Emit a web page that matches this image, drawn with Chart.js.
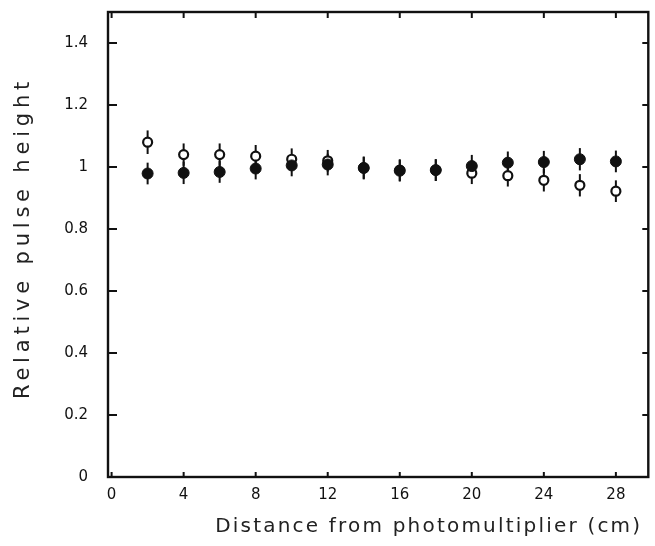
<!DOCTYPE html>
<html>
<head>
<meta charset="utf-8">
<script src="https://cdn.jsdelivr.net/npm/chart.js@4.4.1/dist/chart.umd.min.js"></script>
<style>
  html, body { margin: 0; background: #fff; }
  #wrap { width: 655px; height: 546px; }
</style>
</head>
<body>
<div id="wrap"><canvas id="chart"></canvas></div>
<script>
const distances = [2, 4, 6, 8, 10, 12, 14, 16, 18, 20, 22, 24, 26, 28];

// Filled circles
const filledHeight = [0.979, 0.981, 0.984, 0.995, 1.005, 1.008, 0.997, 0.988, 0.99, 1.003, 1.014, 1.016, 1.025, 1.018];
const filledErr = [0.035, 0.036, 0.035, 0.035, 0.035, 0.035, 0.037, 0.035, 0.035, 0.036, 0.036, 0.036, 0.036, 0.035];

// Open circles
const openHeight = [1.08, 1.04, 1.04, 1.035, 1.025, 1.02, 0.997, 0.99, 0.99, 0.98, 0.972, 0.957, 0.941, 0.922];
const openErr = [0.038, 0.036, 0.036, 0.036, 0.035, 0.035, 0.035, 0.035, 0.035, 0.035, 0.035, 0.036, 0.036, 0.035];

const xTickValues = [0, 4, 8, 12, 16, 20, 24, 28];
const yTickValues = [0, 0.2, 0.4, 0.6, 0.8, 1, 1.2, 1.4];

const xTitle = 'Distance from photomultiplier (cm)';
const yTitle = 'Relative pulse height';

const INK = '#111';

function points(ys) {
  return distances.map((d, i) => ({ x: d, y: ys[i] }));
}

// vertical error bars, drawn under the markers
const errorBars = {
  id: 'errorBars',
  beforeDatasetsDraw(chart) {
    const { ctx, scales: { x, y } } = chart;
    ctx.save();
    ctx.strokeStyle = INK;
    ctx.lineWidth = 2;
    chart.data.datasets.forEach((ds) => {
      ds.data.forEach((p, i) => {
        const px = x.getPixelForValue(p.x);
        ctx.beginPath();
        ctx.moveTo(px, y.getPixelForValue(p.y - ds.errors[i]));
        ctx.lineTo(px, y.getPixelForValue(p.y + ds.errors[i]));
        ctx.stroke();
      });
    });
    ctx.restore();
  },
};

// box round the plot with ticks pointing inwards on all four sides
const frame = {
  id: 'frame',
  beforeDatasetsDraw(chart) {
    const { ctx, chartArea: a, scales: { x, y } } = chart;
    ctx.save();
    ctx.strokeStyle = INK;
    ctx.lineWidth = 2.4;
    ctx.strokeRect(a.left, a.top, a.right - a.left, a.bottom - a.top);
    ctx.lineWidth = 2;
    ctx.beginPath();
    xTickValues.forEach((v) => {
      const px = x.getPixelForValue(v);
      ctx.moveTo(px, a.bottom); ctx.lineTo(px, a.bottom - 5);
      ctx.moveTo(px, a.top); ctx.lineTo(px, a.top + 6);
    });
    yTickValues.forEach((v) => {
      const py = y.getPixelForValue(v);
      ctx.moveTo(a.left, py); ctx.lineTo(a.left + 9, py);
      ctx.moveTo(a.right, py); ctx.lineTo(a.right - 6, py);
    });
    ctx.stroke();
    ctx.restore();
  },
};

// axis titles, spaced out like the typeset original
const titles = {
  id: 'titles',
  afterDraw(chart) {
    const { ctx, chartArea: a } = chart;
    ctx.save();
    ctx.fillStyle = '#222';
    ctx.font = '20px "DejaVu Sans"';
    ctx.textBaseline = 'middle';
    ctx.letterSpacing = '2.2px';
    ctx.textAlign = 'right';
    ctx.fillText(xTitle, a.right - 6, 527);
    ctx.translate(24, 238);
    ctx.rotate(-Math.PI / 2);
    ctx.textAlign = 'center';
    ctx.letterSpacing = '4.8px';
    ctx.font = '21px "DejaVu Sans"';
    ctx.fillText(yTitle, 0, 0);
    ctx.restore();
  },
};

new Chart(document.getElementById('chart'), {
  type: 'scatter',
  data: {
    datasets: [
      {
        label: 'filled',
        data: points(filledHeight),
        errors: filledErr,
        pointStyle: 'circle',
        pointRadius: 5.5,
        pointBackgroundColor: INK,
        pointBorderColor: INK,
        pointBorderWidth: 1,
      },
      {
        label: 'open',
        data: points(openHeight),
        errors: openErr,
        pointStyle: 'circle',
        pointRadius: 4.5,
        pointBackgroundColor: '#fff',
        pointBorderColor: INK,
        pointBorderWidth: 2.2,
      },
    ],
  },
  options: {
    responsive: true,
    maintainAspectRatio: false,
    animation: false,
    layout: { padding: { left: 4, right: 6, top: 12, bottom: 6 } },
    scales: {
      x: {
        type: 'linear',
        min: -0.2,
        max: 29.8,
        grid: { display: false, drawTicks: false },
        border: { display: false },
        afterBuildTicks: (s) => { s.ticks = xTickValues.map((v) => ({ value: v })); },
        afterFit: (s) => { s.height = 63; s.paddingLeft = 0; s.paddingRight = 0; },
        ticks: {
          padding: 9,
          color: INK,
          font: { family: 'DejaVu Sans', size: 15 },
          maxRotation: 0,
        },
      },
      y: {
        type: 'linear',
        min: 0,
        max: 1.5,
        grid: { display: false, drawTicks: false },
        border: { display: false },
        afterBuildTicks: (s) => { s.ticks = yTickValues.map((v) => ({ value: v })); },
        afterFit: (s) => { s.width = 104; s.paddingTop = 0; s.paddingBottom = 0; },
        ticks: {
          padding: 20,
          color: INK,
          font: { family: 'DejaVu Sans', size: 15 },
          callback: (v) => String(+v.toFixed(1)),
        },
      },
    },
    plugins: {
      legend: { display: false },
      tooltip: { enabled: false },
    },
  },
  plugins: [frame, errorBars, titles],
});
</script>
</body>
</html>
